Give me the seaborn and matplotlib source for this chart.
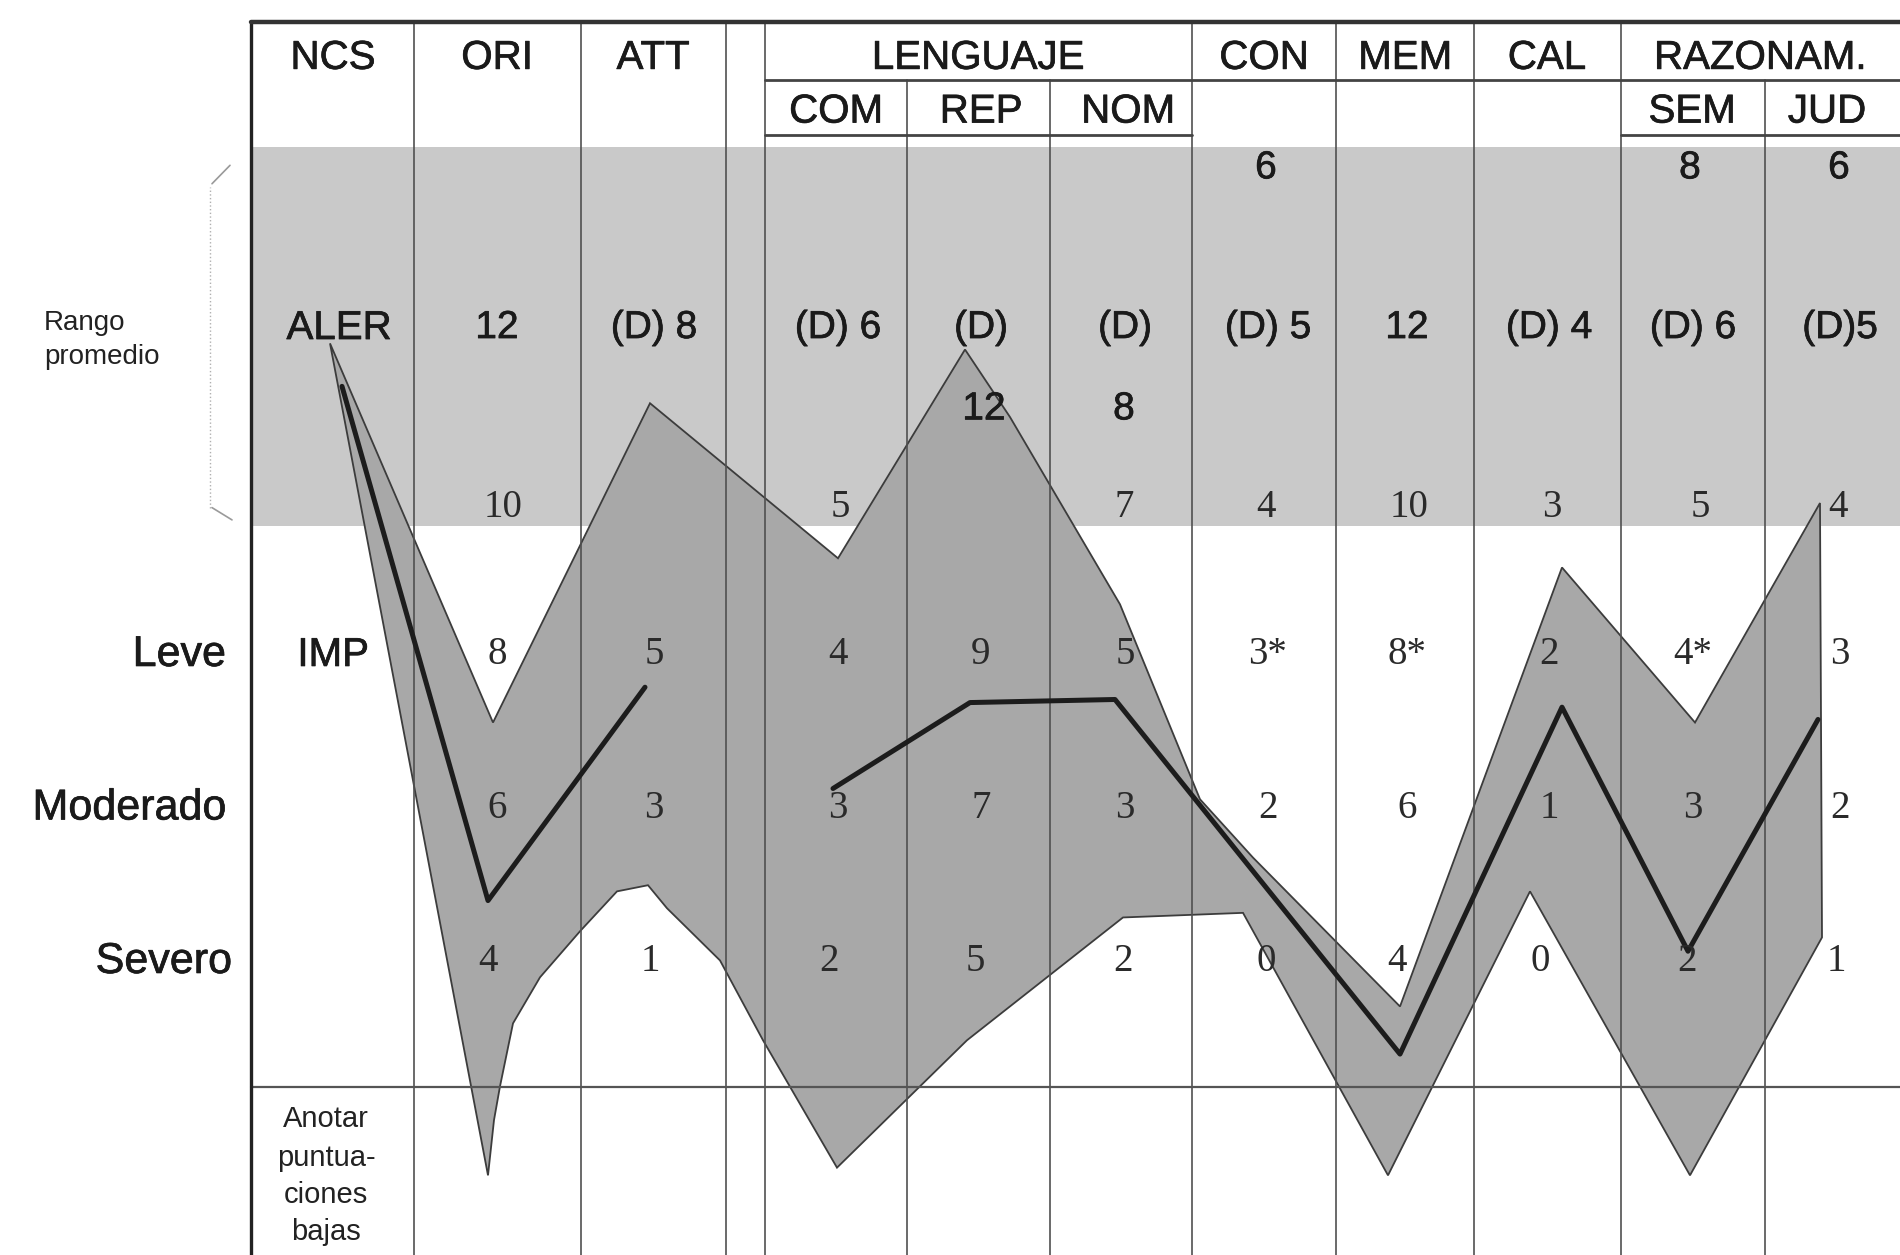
import pandas as pd
import matplotlib
matplotlib.use("Agg")
import matplotlib.pyplot as plt
import matplotlib.patheffects as pe
import seaborn as sns

sns.set_theme(style="white")
plt.rcParams['font.family'] = ['Liberation Sans', 'DejaVu Sans']

# Eje x: posicion a lo largo del formulario; eje y: nivel (1 = Severo, 2 = Moderado, 3 = Leve)
col_edges = [251, 414, 581, 726, 765, 907, 1050, 1192, 1336, 1474, 1621, 1765]

heads = ["NCS", "ORI", "ATT", "LENGUAJE", "CON", "MEM", "CAL", "RAZONAM."]
heads_x = [333, 497, 653, 978, 1264, 1405, 1547, 1760]
sub_heads = ["COM", "REP", "NOM", "SEM", "JUD"]
sub_heads_x = [836, 981, 1128, 1692, 1827]

# columnas de puntuacion (ORI .. JUD)
score_x = [497, 654, 838, 981, 1125, 1268, 1407, 1549, 1693, 1840]
aler_row = ["12", "(D) 8", "(D) 6", "(D)", "(D)", "(D) 5", "12", "(D) 4", "(D) 6", "(D)5"]
top_row = ["6", "8", "6"]          # CON, SEM, JUD
top_row_x = [1266, 1690, 1839]
mid_row = ["12", "8"]              # REP, NOM
mid_row_x = [984, 1124]
band_row = ["10", "5", "7", "4", "10", "3", "5", "4"]
band_row_x = [503, 840, 1124, 1266, 1409, 1552, 1700, 1838]
leve_row = ["8", "5", "4", "9", "5", "3*", "8*", "2", "4*", "3"]
moderado_row = ["6", "3", "3", "7", "3", "2", "6", "1", "3", "2"]
severo_row = ["4", "1", "2", "5", "2", "0", "4", "0", "2", "1"]
severo_x = [488, 650, 829, 975, 1123, 1266, 1397, 1540, 1687, 1836]

# zona sombreada (rango normal) - borde superior y luego inferior
area_x = [330, 493, 650, 838, 965, 1010, 1120, 1200, 1253, 1400, 1562, 1695, 1820, 1822,
          1690, 1530, 1388, 1243, 1123, 967, 837, 763, 720, 667, 648, 617, 580, 540,
          513, 500, 494, 488]
area_y = [5.03, 2.56, 4.64, 3.63, 4.99, 4.55, 3.33, 2.06, 1.68, 0.71, 3.57, 2.56, 3.99, 1.16,
          -0.39, 1.46, -0.39, 1.32, 1.29, 0.49, -0.34, 0.49, 1.01, 1.35, 1.50, 1.46, 1.20, 0.90,
          0.60, 0.19, -0.03, -0.39]

# perfil del paciente (linea gruesa, dos tramos)
profile_x = [342, 488, 645, 833, 970, 1115, 1400, 1562, 1688, 1818]
profile_y = [4.75, 1.40, 2.79, 2.13, 2.69, 2.71, 0.40, 2.66, 1.07, 2.58]
profile_seg = [1, 1, 1, 2, 2, 2, 2, 2, 2, 2]

profile = pd.DataFrame({"x": profile_x, "y": profile_y, "seg": profile_seg})

# niveles de filas
y_top, y_h1, y_h2 = 7.124, 6.746, 6.388
band_top, band_bot = 6.309, 3.840
y_bottom_line = 0.186
y_head, y_sub = 6.89, 6.54
y_toprow, y_aler, y_midrow, y_bandrow = 6.17, 5.13, 4.60, 3.96

fig = plt.figure(figsize=(19, 12.55), dpi=100)
ax = fig.add_axes([0, 0, 1, 1])
ax.set_xlim(0, 1900)
ax.set_ylim(-0.909, 7.267)
ax.axis("off")

# banda gris del rango promedio
ax.fill_between([col_edges[0], 1900], band_bot, band_top, color="#c9c9c9", lw=0, zorder=0)

# area del perfil normal
ax.fill(area_x, area_y, facecolor="#a8a8a8", edgecolor="#3c3c3c", lw=1.3, zorder=1)

# lineas de la tabla
grid_kw = dict(color="#505050", lw=1.2, zorder=2)
for xe in col_edges[1:]:
    start = y_h1 if xe in (907, 1050, 1765) else y_top
    ax.plot([xe, xe], [-0.909, start], **grid_kw)
ax.plot([col_edges[0], col_edges[0]], [-0.909, y_top], color="#222222", lw=2.4, zorder=3)
ax.plot([col_edges[0], 1900], [y_top, y_top], color="#333333", lw=3.2, zorder=3)
ax.plot([765, 1900], [y_h1, y_h1], color="#444444", lw=2, zorder=2)
ax.plot([765, 1192], [y_h2, y_h2], color="#444444", lw=2, zorder=2)
ax.plot([1621, 1900], [y_h2, y_h2], color="#444444", lw=2, zorder=2)
ax.plot([col_edges[0], 1900], [y_bottom_line, y_bottom_line], color="#555555", lw=1.6, zorder=2)

# perfil del paciente
sns.lineplot(data=profile, x="x", y="y", units="seg", estimator=None, sort=False,
             color="#1c1c1c", lw=3.6, ax=ax, zorder=4, legend=False)
ax.set_xlabel("")
ax.set_ylabel("")

# corchete punteado "Rango promedio"
ax.plot([210, 210], [3.96, 6.05], color="#b0b0b0", lw=1, ls=":", zorder=2)
ax.plot([212, 230], [6.07, 6.19], color="#9a9a9a", lw=1.2, zorder=2)
ax.plot([212, 232], [3.96, 3.88], color="#9a9a9a", lw=1.2, zorder=2)

bold = [pe.withStroke(linewidth=0.5, foreground="#1a1a1a")]
txt = dict(ha="center", va="center", color="#1a1a1a", zorder=5, path_effects=bold)
serif = dict(ha="center", va="center", color="#2a2a2a", zorder=5,
             family=["Liberation Serif", "DejaVu Serif"], fontsize=28)

for h, x in zip(heads, heads_x):
    ax.text(x, y_head, h, fontsize=29, **txt)
for h, x in zip(sub_heads, sub_heads_x):
    ax.text(x, y_sub, h, fontsize=29, **txt)

ax.text(339, y_aler, "ALER", fontsize=29, **txt)
ax.text(333, 3.0, "IMP", fontsize=29, **txt)
for s, x in zip(aler_row, score_x):
    ax.text(x, y_aler, s, fontsize=28, **txt)
for s, x in zip(top_row, top_row_x):
    ax.text(x, y_toprow, s, fontsize=28, **txt)
for s, x in zip(mid_row, mid_row_x):
    ax.text(x, y_midrow, s, fontsize=28, **txt)
for s, x in zip(band_row, band_row_x):
    ax.text(x, y_bandrow, s, **serif)
for s, x in zip(leve_row, score_x):
    ax.text(x, 3.0, s, **serif)
for s, x in zip(moderado_row, score_x):
    ax.text(x, 2.0, s, **serif)
for s, x in zip(severo_row, severo_x):
    ax.text(x, 1.0, s, **serif)

# etiquetas de filas
ax.text(44, 5.16, "Rango", fontsize=20, ha="left", va="center", color="#222222")
ax.text(44, 4.94, "promedio", fontsize=20, ha="left", va="center", color="#222222")
row_kw = dict(fontsize=31, ha="right", va="center", color="#1a1a1a", path_effects=bold)
ax.text(226, 3.0, "Leve", **row_kw)
ax.text(226, 2.0, "Moderado", **row_kw)
ax.text(232, 1.0, "Severo", **row_kw)

for s, yy in zip(["Anotar", "puntua-", "ciones", "bajas"], [-0.02, -0.28, -0.52, -0.76]):
    ax.text(326, yy, s, fontsize=21, ha="center", va="center", color="#222222")

fig.savefig("out.png", dpi=100, facecolor="white")
